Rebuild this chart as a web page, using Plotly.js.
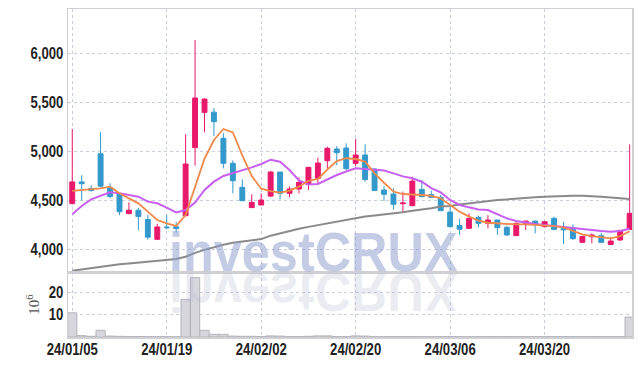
<!DOCTYPE html>
<html><head><meta charset="utf-8">
<script src="https://cdn.plot.ly/plotly-3.0.1.min.js"></script>
<style>html,body{margin:0;padding:0;background:#fff}#chart{width:642px;height:366px}</style>
</head><body><div id="chart"></div>
<script>
const dates = ['24/01/05','24/01/08','24/01/09','24/01/10','24/01/11','24/01/12','24/01/15','24/01/16','24/01/17','24/01/18',
'24/01/19','24/01/22','24/01/23','24/01/24','24/01/25','24/01/26','24/01/29','24/01/30','24/01/31','24/02/01',
'24/02/02','24/02/05','24/02/06','24/02/07','24/02/08','24/02/13','24/02/14','24/02/15','24/02/16','24/02/19',
'24/02/20','24/02/21','24/02/22','24/02/23','24/02/26','24/02/27','24/02/28','24/02/29','24/03/04','24/03/05',
'24/03/06','24/03/07','24/03/08','24/03/11','24/03/12','24/03/13','24/03/14','24/03/15','24/03/18','24/03/19',
'24/03/20','24/03/21','24/03/22','24/03/25','24/03/26','24/03/27','24/03/28','24/03/29','24/04/01','24/04/02'];
const tickLabels = ['24/01/05','24/01/19','24/02/02','24/02/20','24/03/06','24/03/20'];
const open  = [4467,4688,4620,4975,4630,4565,4365,4400,4305,4103,4228,4232,4344,5038,5398,5400,5133,4878,4633,4426,
4453,4544,4789,4572,4616,4663,4725,4905,5024,5034,4878,4963,4820,4606,4565,4466,4446,4612,4558,4531,
4381,4245,4215,4327,4266,4300,4225,4140,4266,4289,4232,4317,4211,4215,4072,4130,4140,4051,4096,4204];
const high  = [5228,4756,4655,5195,4675,4580,4480,4425,4350,4260,4348,4280,5174,6136,5540,5440,5185,4908,4715,4562,
4572,4800,4790,4640,4735,4840,4935,5048,5054,5082,5126,5072,4822,4647,4623,4590,4742,4708,4600,4555,
4430,4313,4368,4345,4350,4302,4238,4276,4291,4291,4290,4334,4280,4255,4135,4164,4170,4123,4196,5071];
const low   = [4460,4500,4590,4630,4520,4350,4358,4195,4100,4095,4205,4170,4340,4854,5194,5157,4827,4572,4497,4425,
4450,4531,4510,4531,4572,4606,4667,4827,4857,4810,4850,4690,4598,4494,4408,4378,4440,4530,4528,4393,
4225,4147,4213,4225,4215,4147,4140,4138,4198,4164,4225,4200,4055,4095,4070,4062,4070,4050,4089,4200];
const close = [4688,4670,4600,4645,4540,4385,4400,4335,4125,4229,4222,4212,4871,5544,5534,5303,4878,4700,4497,4480,
4504,4789,4572,4616,4684,4837,4881,5031,4986,4823,4963,4714,4600,4562,4460,4473,4697,4538,4531,4395,
4232,4205,4317,4266,4300,4222,4147,4266,4289,4255,4283,4204,4201,4110,4133,4147,4072,4085,4194,4368];
const ma5   = [4596,4603,4613,4623,4640,4572,4521,4470,4385,4300,4266,4239,4351,4640,4925,5116,5228,5194,4960,4749,
4619,4595,4580,4600,4640,4700,4720,4815,4900,4930,4922,4895,4776,4680,4590,4565,4562,4555,4545,4521,
4453,4385,4334,4293,4272,4266,4259,4255,4255,4249,4245,4238,4225,4191,4153,4136,4123,4113,4136,4185];
const ma10  = [4358,4443,4511,4545,4582,4572,4558,4538,4487,4470,4426,4378,4402,4477,4606,4691,4749,4776,4810,4837,
4871,4915,4895,4810,4704,4662,4668,4714,4759,4795,4827,4820,4812,4805,4775,4745,4725,4690,4625,4582,
4504,4453,4429,4408,4402,4361,4317,4289,4272,4259,4249,4238,4225,4215,4208,4198,4187,4181,4187,4210];
const ma60  = [3783,3797,3812,3827,3841,3848,3856,3864,3875,3886,3895,3902,3925,3965,3995,4025,4048,4068,4080,4095,
4105,4140,4165,4190,4210,4230,4248,4265,4280,4300,4317,4335,4345,4355,4365,4380,4395,4405,4420,4437,
4443,4458,4470,4482,4494,4503,4510,4520,4527,4533,4538,4543,4548,4548,4547,4544,4538,4530,4522,4515];
const volume = [10.8,0.6,0.3,3.0,0.4,0.3,0.2,0.2,0.2,0.15,0.15,0.15,16.8,26.5,3.0,1.2,1.2,0.4,0.3,0.3,
0.2,0.5,0.4,0.2,0.2,0.3,0.5,0.5,0.2,0.2,0.5,0.4,0.15,0.15,0.15,0.15,0.2,0.15,0.15,0.15,
0.2,0.15,0.15,0.15,0.15,0.15,0.15,0.15,0.15,0.15,0.15,0.15,0.2,0.15,0.15,0.15,0.15,0.15,0.15,8.9];
const priceTicks = [4000,4500,5000,5500,6000];
const volTicks = [10,20];

const tickFont = {family:'"Liberation Sans", Arial, sans-serif', size:16, weight:'bold', color:'#222'};
const gridCol = '#c9cde0';
const lineCol = '#cfcfd4';

const traces = [
  {type:'bar', x:dates, y:volume, xaxis:'x2', yaxis:'y2', marker:{color:'#d6d6dc', line:{color:'#b4b4bc', width:1}}, hoverinfo:'skip'},
  {type:'candlestick', x:dates, open:open, high:high, low:low, close:close, xaxis:'x', yaxis:'y',
   increasing:{line:{color:'#e8186a', width:1}, fillcolor:'#e8186a'},
   decreasing:{line:{color:'#3399cc', width:1}, fillcolor:'#3399cc'}, whiskerwidth:0},
  {type:'scatter', mode:'lines', x:dates, y:ma60, line:{color:'#8a8a8a', width:2}, xaxis:'x', yaxis:'y'},
  {type:'scatter', mode:'lines', x:dates, y:ma10, line:{color:'#c75ff0', width:2}, xaxis:'x', yaxis:'y'},
  {type:'scatter', mode:'lines', x:dates, y:ma5, line:{color:'#f08a4b', width:1.8}, xaxis:'x', yaxis:'y'}
];

const layout = {
  width:642, height:366, margin:{l:68, r:10, t:9, b:29},
  paper_bgcolor:'#fff', plot_bgcolor:'#fff', showlegend:false, bargap:0.02, boxgap:0.26,
  xaxis:{type:'category', domain:[0,1], anchor:'y', range:[-0.45,59.25], tickvals:tickLabels, showticklabels:false,
         showgrid:true, gridcolor:gridCol, griddash:'dot', gridwidth:1, showline:true, linecolor:lineCol, linewidth:1.5, mirror:true,
         ticks:'', zeroline:false, rangeslider:{visible:false}},
  xaxis2:{type:'category', domain:[0,1], anchor:'y2', matches:'x', range:[-0.45,59.25], tickvals:tickLabels, ticktext:tickLabels,
         tickfont:tickFont, ticklabelstandoff:-3, showgrid:true, gridcolor:gridCol, griddash:'dot', gridwidth:1, showline:true, linecolor:lineCol, linewidth:1.5,
         mirror:true, ticks:'', zeroline:false},
  yaxis:{domain:[0.198,1], range:[3769,6452], tickvals:priceTicks, tickformat:',', tickfont:tickFont, showgrid:true,
         gridcolor:gridCol, griddash:'dot', showline:true, linecolor:lineCol, linewidth:1.5, mirror:true, ticks:'', zeroline:false},
  yaxis2:{domain:[0,0.198], range:[0,29], tickvals:volTicks, tickfont:tickFont, showgrid:true, gridcolor:gridCol, griddash:'dot',
         showline:true, linecolor:lineCol, linewidth:1.5, mirror:true, ticks:'', zeroline:false,
         title:{text:'10<sup>6</sup>', font:{family:'"Liberation Serif", serif', size:15, color:'#555'}, standoff:2}},
  annotations:[
    {text:'investCRUX', xref:'paper', yref:'paper', x:0.4465, y:0.198, xanchor:'center', yanchor:'bottom', yshift:-13, xshift:-6,
     showarrow:false, font:{family:'"Liberation Sans", Arial, sans-serif', size:56, weight:'bold', color:'rgba(140,155,205,0.52)'}},
    {text:'investCRUX', xref:'paper', yref:'paper', x:0.4465, y:0.198, xanchor:'center', yanchor:'top', yshift:13, xshift:-6,
     showarrow:false, font:{family:'"Liberation Sans", Arial, sans-serif', size:56, weight:'bold', color:'rgba(185,185,210,0.28)'}}
  ]
};

function squeeze(sel, factor) {
  document.querySelectorAll(sel).forEach(function(t){
    const w = t.getComputedTextLength();
    if (w > 0) { t.setAttribute('textLength', (w*factor).toFixed(1)); t.setAttribute('lengthAdjust','spacingAndGlyphs'); }
  });
}

Plotly.newPlot('chart', traces, layout, {displayModeBar:false, staticPlot:true}).then(function(){
  squeeze('.xtick text, .x2tick text, .ytick text, .y2tick text', 0.82);
  squeeze('.annotation-text', 0.9);
  const anns = document.querySelectorAll('.annotation .annotation-text-g');
  if (anns.length > 1) {
    const g = anns[1];
    g.style.transformBox = 'fill-box';
    g.style.transformOrigin = 'center';
    g.style.transform = 'scaleY(-1)';
  }
});
</script></body></html>
